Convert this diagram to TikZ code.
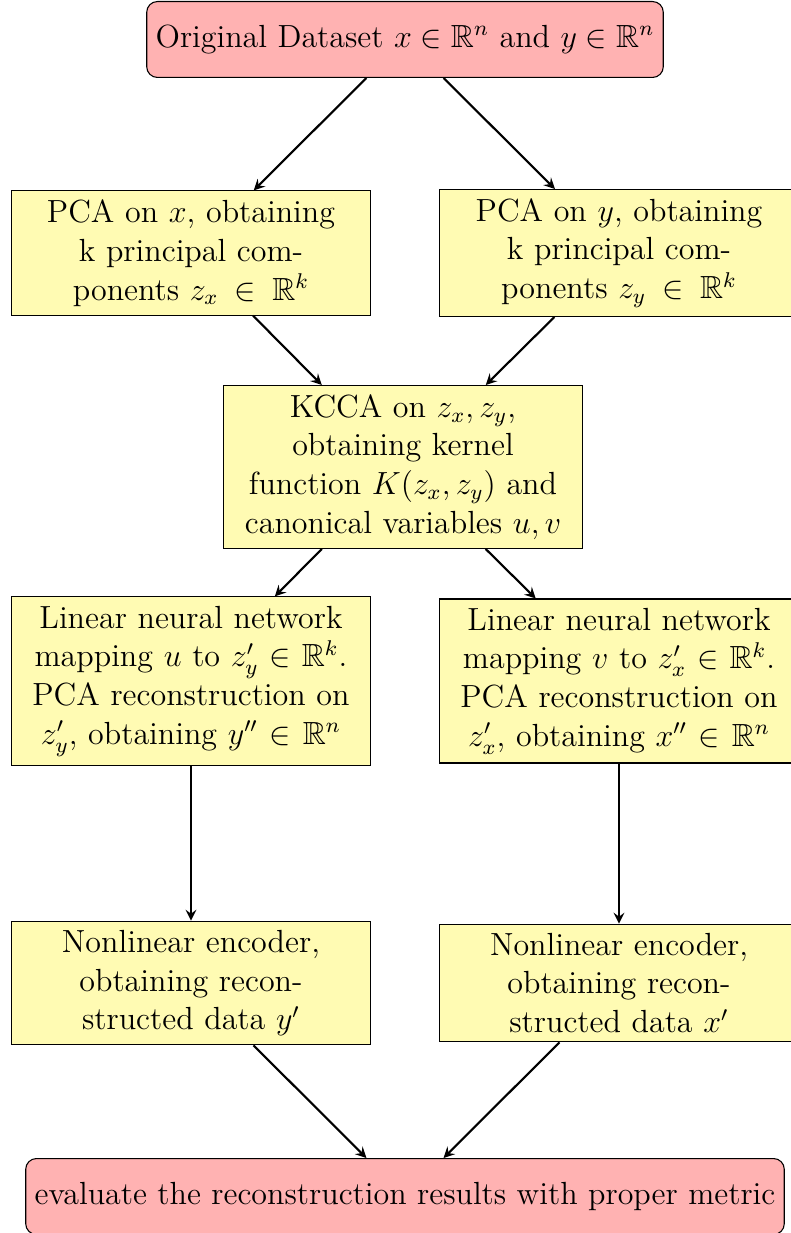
\documentclass[tikz,border=0pt]{standalone}
\usepackage{amssymb}
\usetikzlibrary{arrows}
\begin{document}
\begin{tikzpicture}[x=0.3748pt,y=-0.3748pt,
  font=\fontsize{12}{14.5}\selectfont,
  startstop/.style={rectangle, rounded corners, minimum height=1cm, text centered, draw=black, fill=red!30},
  process/.style={rectangle, minimum width=3cm, minimum height=1cm, text centered, text width=4.5cm, draw=black, fill=yellow!30},
  arrow/.style={thick,->,>=stealth}]
\useasboundingbox (0,0) rectangle (790,1233);
\node[startstop] (start) at (405,39.5) {Original Dataset $x\in\mathbb{R}^n$ and $y\in\mathbb{R}^n$};
\node[process] (pcax) at (191,253) {PCA on $x$, obtaining k principal components $z_x\in\mathbb{R}^k$};
\node[process] (pcay) at (619,253) {PCA on $y$, obtaining k principal components $z_y\in\mathbb{R}^k$};
\node[process] (kcca) at (403,467) {KCCA on $z_x,z_y$, obtaining kernel function $K(z_x,z_y)$ and canonical variables $u,v$};
\node[process] (linl) at (191,681) {Linear neural network mapping $u$ to $z_y'\in\mathbb{R}^k$. PCA reconstruction on $z_y'$, obtaining $y''\in\mathbb{R}^n$};
\node[process] (linr) at (619,681) {Linear neural network mapping $v$ to $z_x'\in\mathbb{R}^k$. PCA reconstruction on $z_x'$, obtaining $x''\in\mathbb{R}^n$};
\node[process] (nonl) at (191,983) {Nonlinear encoder, obtaining reconstructed data $y'$};
\node[process] (nonr) at (619,983) {Nonlinear encoder, obtaining reconstructed data $x'$};
\node[startstop] (stop) at (405,1196.5) {evaluate the reconstruction results with proper metric};
\draw[arrow] (start) -- (pcax);
\draw[arrow] (start) -- (pcay);
\draw[arrow] (pcax) -- (kcca);
\draw[arrow] (pcay) -- (kcca);
\draw[arrow] (kcca) -- (linl);
\draw[arrow] (kcca) -- (linr);
\draw[arrow] (linl) -- (nonl);
\draw[arrow] (linr) -- (nonr);
\draw[arrow] (nonl) -- (stop);
\draw[arrow] (nonr) -- (stop);
\end{tikzpicture}
\end{document}
